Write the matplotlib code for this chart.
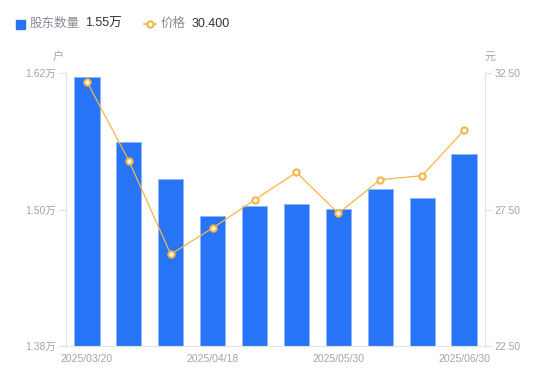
import matplotlib.pyplot as plt
from matplotlib.lines import Line2D
from matplotlib.patches import Rectangle

plt.rcParams['font.family'] = ['Liberation Sans', 'Noto Sans CJK SC', 'DejaVu Sans']

dates = ["2025/03/20", "2025/03/31", "2025/04/10", "2025/04/18", "2025/04/30",
         "2025/05/20", "2025/05/30", "2025/06/10", "2025/06/20", "2025/06/30"]
holders = [1.6165, 1.5596, 1.5265, 1.4945, 1.5028, 1.5046, 1.5007, 1.5183, 1.5104, 1.5488]
price = [32.18, 29.29, 25.86, 26.82, 27.85, 28.86, 27.36, 28.59, 28.74, 30.40]

left_ticks = [1.38, 1.50, 1.62]
right_ticks = [22.50, 27.50, 32.50]

bar_color = '#2775f6'
line_color = '#f7b541'
grey = '#a3a3b0'
axis_grey = '#e3e3e3'

fig = plt.figure(figsize=(5.5, 3.81), dpi=100)
ax = fig.add_axes([66 / 550, 1 - 346 / 381, 419 / 550, 273 / 381])

x = list(range(len(dates)))
ax.bar(x, holders, width=0.6, color=bar_color, edgecolor='#8fb6fa', linewidth=0.6, zorder=2)
ax.set_xlim(-0.5, len(dates) - 0.5)
ax.set_ylim(left_ticks[0], left_ticks[-1])
ax.set_yticks(left_ticks)
ax.set_yticklabels([f"{v:.2f}万" for v in left_ticks])
ax.set_xticks([0, 3, 6, 9])
ax.set_xticklabels([dates[i] for i in [0, 3, 6, 9]])
ax.tick_params(axis='x', length=0, pad=6, labelsize=7.5, labelcolor=grey)
ax.tick_params(axis='y', length=5, width=0.8, color=axis_grey, pad=2, labelsize=7.5, labelcolor=grey)
for s in ['top', 'right']:
    ax.spines[s].set_visible(False)
ax.spines['left'].set_color(axis_grey)
ax.spines['bottom'].set_color(axis_grey)

ax2 = ax.twinx()
ax2.plot(x, price, color=line_color, lw=0.9, marker='o', ms=4.5, mfc='white',
         mec=line_color, mew=1.5, zorder=3)
ax2.set_ylim(right_ticks[0], right_ticks[-1])
ax2.set_yticks(right_ticks)
ax2.set_yticklabels([f"{v:.2f}" for v in right_ticks])
ax2.tick_params(axis='y', length=5, width=0.8, color=axis_grey, pad=2, labelsize=7.5, labelcolor=grey)
for s in ['top', 'left', 'bottom']:
    ax2.spines[s].set_visible(False)
ax2.spines['right'].set_color(axis_grey)

# unit labels
fig.text(58 / 550, 1 - 57 / 381, "户", color=grey, fontsize=8, ha='center', va='center')
fig.text(490 / 550, 1 - 57 / 381, "元", color=grey, fontsize=8, ha='center', va='center')

# legend
ly = 1 - 24 / 381
fig.patches.append(Rectangle((16 / 550, 1 - 29 / 381), 9 / 550, 9 / 381,
                             transform=fig.transFigure, color=bar_color, figure=fig))
fig.text(30 / 550, ly, "股东数量", color='#8a8a96', fontsize=9, va='center')
fig.text(85 / 550, ly, f"{holders[-1]:.2f}万", color='#333333', fontsize=9, va='center')
fig.lines.append(Line2D([144 / 550, 156 / 550], [ly, ly], transform=fig.transFigure,
                        color=line_color, lw=1.2))
fig.lines.append(Line2D([150 / 550], [ly], transform=fig.transFigure, marker='o', ms=4.5,
                        mfc='white', mec=line_color, mew=1.5))
fig.text(161 / 550, ly, "价格", color='#8a8a96', fontsize=9, va='center')
fig.text(192 / 550, ly, f"{price[-1]:.3f}", color='#333333', fontsize=9, va='center')

fig.savefig("out.png", dpi=100)
